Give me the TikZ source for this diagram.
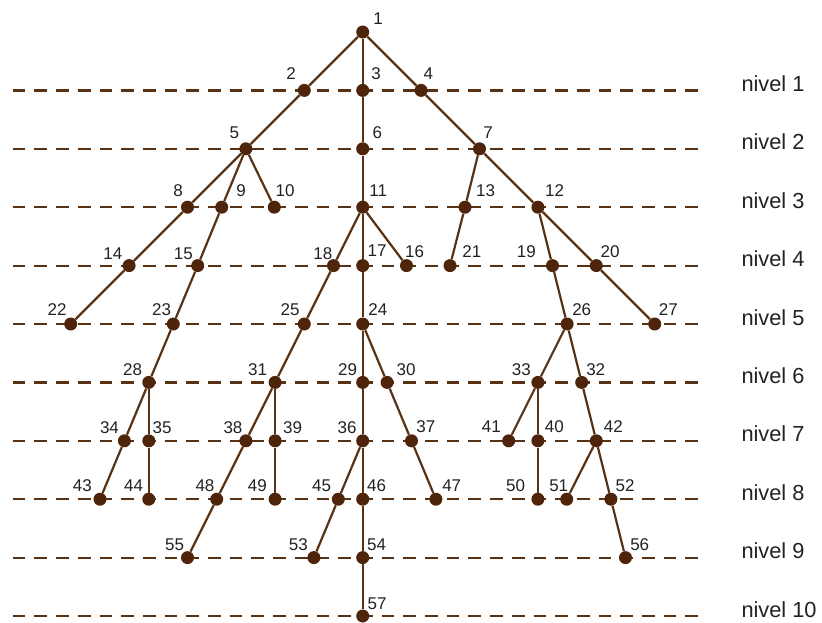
\documentclass[tikz,border=0pt]{standalone}
\usepackage{fontspec}
\setmainfont{Liberation Sans}
\definecolor{br}{RGB}{88,50,20}
\definecolor{dotc}{RGB}{78,36,10}
\definecolor{txt}{RGB}{34,34,34}
\begin{document}
\begin{tikzpicture}[x=1pt,y=-1pt,
  dotn/.style={circle,fill=dotc,inner sep=0pt,minimum size=13pt},
  edge/.style={draw=br,line width=2.2pt},
  lvl/.style={draw=br,line width=2.2pt,dash pattern=on 12.7pt off 9pt},
  lab/.style={inner sep=0pt,text=txt,font=\fontsize{17}{19}\selectfont},
  niv/.style={inner sep=0pt,anchor=base west,text=txt,font=\fontsize{21.8}{24}\selectfont}]
\useasboundingbox (0,0) rectangle (822,622);
% level lines
\foreach \k/\y in {1/90.4,2/148.8,3/207.2,4/265.6,5/324,6/382.4,7/440.8,8/499.2,9/557.6,10/616}{
  \coordinate (ls\k) at (12.7,\y);
  \coordinate (le\k) at (706,\y);
  \draw[lvl] (ls\k) -- (le\k);
  \node[niv] (nv\k) at (741.3,\y+1) {nivel \k};
}
% nodes
\foreach \i/\x/\y/\lx/\ly in {
1/362.7/32/378/19,
2/304.3/90.4/291/74,
3/362.7/90.4/376/74,
4/421.1/90.4/428.3/74,
5/245.9/148.8/234.3/132.7,
6/362.7/148.8/377.3/132.7,
7/479.5/148.8/488/132.7,
8/187.5/207.2/178/190.8,
9/221.7/207.2/241/190.8,
10/274.3/207.2/285/190.8,
11/362.7/207.2/378.3/190.3,
12/537.9/207.2/554.5/190.7,
13/465/207.2/485.5/190.7,
14/129.1/265.6/112.8/253.3,
15/197.7/265.6/183.3/253.3,
16/406.5/265.6/414.5/251.7,
17/362.7/265.6/377.2/250.8,
18/333.5/265.6/322.8/253.3,
19/552.5/265.6/526.3/251.7,
20/596.3/265.6/610/251.7,
21/450/265.6/471.8/251.7,
22/70.7/324/57.2/309.3,
23/173.3/324/161.7/309.3,
24/362.7/324/377.8/309.3,
25/304.3/324/290/309.3,
26/567.1/324/581.7/309.3,
27/654.7/324/668.3/309.3,
28/148.8/382.4/132.7/369.3,
29/362.7/382.4/347.5/369.3,
30/387.1/382.4/406/369.3,
31/275.1/382.4/257.5/369.3,
32/581.7/382.4/595.7/369.3,
33/537.9/382.4/521.3/369.3,
34/124.4/440.8/109.5/427.3,
35/148.8/440.8/162.2/427.3,
36/362.7/440.8/347/427.3,
37/411.5/440.8/425.8/426.7,
38/245.9/440.8/233/427.3,
39/275.1/440.8/292.5/427.3,
40/537.9/440.8/554.3/426.7,
41/508.7/440.8/491.3/426.7,
42/596.3/440.8/613.3/426.7,
43/100/499.2/82.3/486,
44/148.8/499.2/133.7/486,
45/338.3/499.2/321.7/486,
46/362.7/499.2/376.7/486,
47/435.9/499.2/451.7/486,
48/216.7/499.2/205/486,
49/275.1/499.2/257.3/486,
50/537.9/499.2/515.5/486,
51/566.7/499.2/558.7/486,
52/610.9/499.2/625/486,
53/313.9/557.6/298.3/545,
54/362.7/557.6/376.7/545,
55/187.5/557.6/174.7/545,
56/625.5/557.6/639.7/545,
57/362.7/616/377/603.3}{
  \node[dotn] (n\i) at (\x,\y) {};
  \node[lab] (t\i) at (\lx,\ly) {\i};
}
% edges
\foreach \a/\b in {1/2,1/3,1/4,2/5,3/6,4/7,5/8,5/9,5/10,6/11,7/13,7/12,
  8/14,9/15,11/18,11/17,11/16,13/21,12/19,12/20,
  14/22,15/23,18/25,17/24,19/26,20/27,
  23/28,25/31,24/29,24/30,26/33,26/32,
  28/34,28/35,31/38,31/39,29/36,30/37,33/41,33/40,32/42,
  34/43,35/44,38/48,39/49,36/45,36/46,37/47,40/50,42/51,42/52,
  48/55,45/53,46/54,52/56,54/57}{
  \draw[edge] (n\a) -- (n\b);
}
\end{tikzpicture}
\end{document}
